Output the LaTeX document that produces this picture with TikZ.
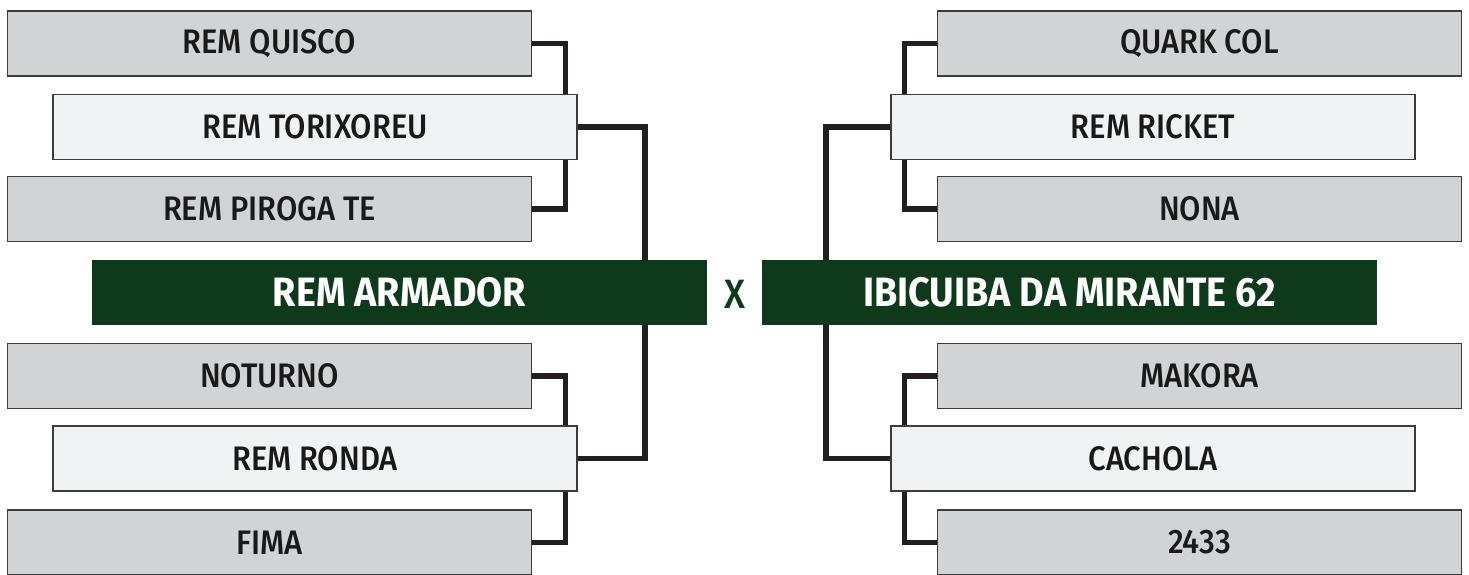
\documentclass[tikz,border=0pt]{standalone}
\usepackage{fontspec}
\usetikzlibrary{backgrounds}
\setmainfont{Fira Sans}[UprightFont=* Medium, BoldFont=* Bold, FakeStretch=0.91]
\newfontfamily\titlefont{Fira Sans}[UprightFont=* Bold, FakeStretch=0.92]
\definecolor{boxgray}{HTML}{D1D3D4}
\definecolor{boxlight}{HTML}{F1F2F3}
\definecolor{boxline}{HTML}{3C3C3C}
\definecolor{teamgreen}{HTML}{0E3A1B}
\definecolor{connline}{HTML}{231F20}
\tikzset{
  team/.style={draw=boxline, line width=1.3pt, minimum width=524pt, minimum height=65pt,
    inner sep=0pt, font=\fontsize{34}{40}\selectfont, text=black!90},
  grayteam/.style={team, fill=boxgray},
  lightteam/.style={team, fill=boxlight},
  finalist/.style={fill=teamgreen, minimum width=615pt, minimum height=65pt, inner sep=0pt,
    text=white, font=\titlefont\fontsize{41}{46}\selectfont},
  conn/.style={draw=connline, line width=5.2pt, line join=miter},
}
\begin{document}
\begin{tikzpicture}[x=1pt,y=-1pt]
\useasboundingbox (0,0) rectangle (1469,574);
\coordinate (lv) at (645,0);
\coordinate (rv) at (826,0);
\node[finalist] (arm) at (399.5,292.5) {REM ARMADOR};
\node[finalist] (ibi) at (1069.5,292.5) {IBICUIBA DA MIRANTE 62};
\node[text=teamgreen, font=\fontsize{41}{46}\selectfont, inner sep=0pt] (vs) at (734.5,294) {X};
\path
  (269.5,43.5)  node[grayteam]  (q)  {REM QUISCO}
  (315,127)     node[lightteam] (t)  {REM TORIXOREU}
  (269.5,209)   node[grayteam]  (p)  {REM PIROGA TE}
  (269.5,376)   node[grayteam]  (n)  {NOTURNO}
  (315,458.5)   node[lightteam] (r)  {REM RONDA}
  (269.5,542.5) node[grayteam]  (f)  {FIMA};
\path
  (1199.5,43.5) node[grayteam]  (qc) {QUARK COL}
  (1153,127)    node[lightteam] (rr) {REM RICKET}
  (1199.5,209)  node[grayteam]  (no) {NONA}
  (1199.5,376)  node[grayteam]  (mk) {MAKORA}
  (1153,458.5)  node[lightteam] (ca) {CACHOLA}
  (1199.5,542.5) node[grayteam] (tw) {2433};
\begin{scope}[on background layer]
  % left brackets
  \draw[conn] (q.east) -- ++(33,0) |- (p.east);
  \draw[conn] (n.east) -- ++(33,0) |- (f.east);
  \draw[conn] (t.east) -| (lv |- arm.north);
  \draw[conn] (r.east) -| (lv |- arm.south);
  % right brackets
  \draw[conn] (qc.west) -- ++(-32,0) |- (no.west);
  \draw[conn] (mk.west) -- ++(-32,0) |- (tw.west);
  \draw[conn] (rr.west) -| (rv |- ibi.north);
  \draw[conn] (ca.west) -| (rv |- ibi.south);
\end{scope}
\end{tikzpicture}
\end{document}
